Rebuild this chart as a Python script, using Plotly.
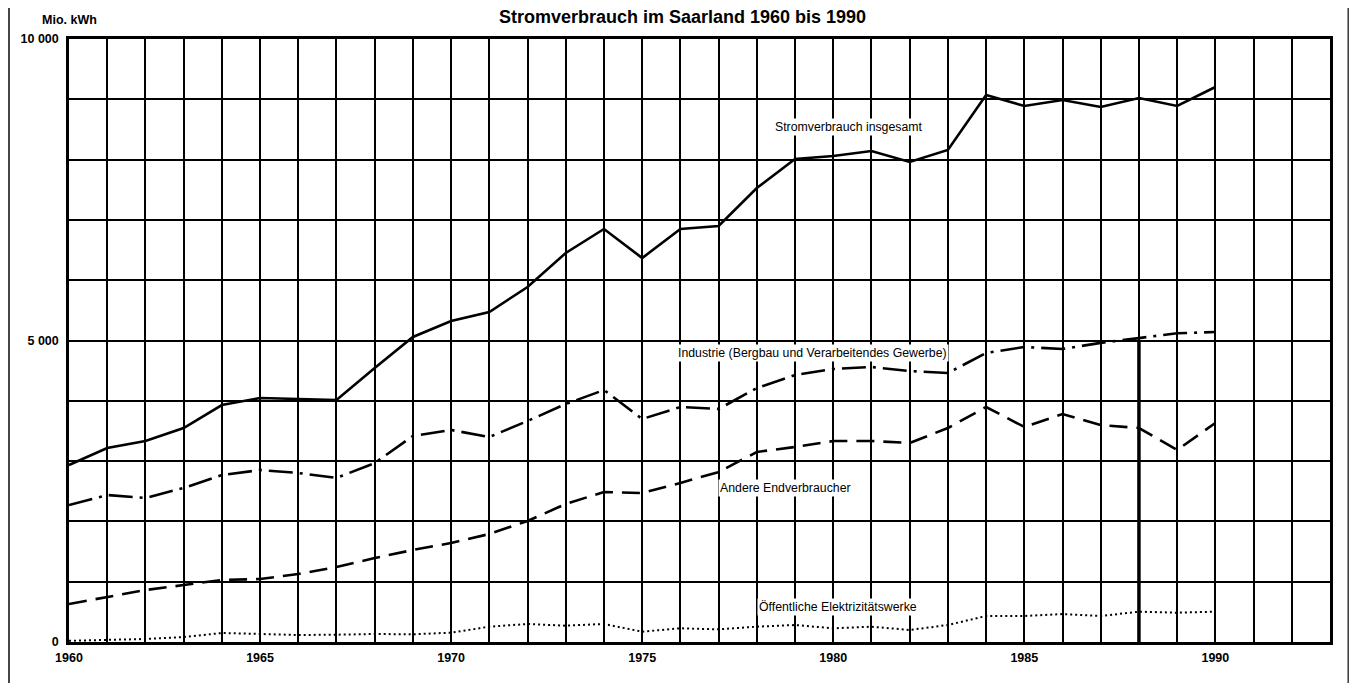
import plotly.graph_objects as go

years = list(range(1960, 1991))

insgesamt = [2935, 3217, 3333, 3549, 3930, 4046, 4030, 4013, 4544, 5058,
             5323, 5473, 5887, 6451, 6849, 6368, 6849, 6899, 7529, 8010,
             8060, 8143, 7960, 8159, 9071, 8889, 8988, 8872, 9022, 8889, 9204]

industrie = [2272, 2438, 2388, 2554, 2769, 2852, 2803, 2720, 2968, 3416,
             3516, 3400, 3665, 3947, 4179, 3698, 3897, 3864, 4212, 4428,
             4527, 4561, 4494, 4461, 4793, 4892, 4860, 4960, 5040, 5120, 5140]

andere = [630, 746, 862, 945, 1028, 1045, 1128, 1244, 1393, 1526,
          1642, 1791, 2007, 2289, 2488, 2471, 2637, 2819, 3151, 3234,
          3333, 3333, 3300, 3549, 3897, 3566, 3781, 3599, 3549, 3184, 3632]

oeffentlich = [20, 33, 50, 83, 149, 133, 116, 121, 133, 127,
               155, 254, 299, 271, 299, 171, 227, 210, 254, 282,
               227, 254, 199, 282, 431, 431, 464, 431, 503, 486, 503]

x_tickvals = [1960, 1965, 1970, 1975, 1980, 1985, 1990]
x_ticktext = ["1960", "1965", "1970", "1975", "1980", "1985", "1990"]
y_tickvals = [0, 5000, 10000]
y_ticktext = ["0", "5 000", "10 000"]

labels = [
    ("Stromverbrauch insgesamt", 1980.4, 8541),
    ("Industrie (Bergbau und Verarbeitendes Gewerbe)", 1979.45, 4793),
    ("Andere Endverbraucher", 1978.74, 2554),
    ("Öffentliche Elektrizitätswerke", 1980.13, 580),
]

fig = go.Figure()
fig.add_trace(go.Scatter(x=years, y=insgesamt, mode="lines",
                         line=dict(color="black", width=2.6), name="insgesamt"))
fig.add_trace(go.Scatter(x=years, y=industrie, mode="lines",
                         line=dict(color="black", width=2.6, dash="24px,7px,3px,7px"), name="Industrie"))
fig.add_trace(go.Scatter(x=years, y=andere, mode="lines",
                         line=dict(color="black", width=2.6, dash="18px,9px"), name="Andere"))
fig.add_trace(go.Scatter(x=years, y=oeffentlich, mode="lines",
                         line=dict(color="black", width=2, dash="2px,3px"), name="Öffentliche"))

for txt, lx, ly in labels:
    fig.add_annotation(x=lx, y=ly, text=txt, showarrow=False,
                       font=dict(size=12.3, color="black", family="Liberation Sans", weight="normal"),
                       bgcolor="white", borderpad=1)

fig.update_layout(
    width=1349, height=675,
    margin=dict(l=61, r=27, t=31, b=41),
    paper_bgcolor="white", plot_bgcolor="white",
    showlegend=False,
    font=dict(family="Liberation Sans", color="black", size=12, weight="bold"),
    title=dict(text="Stromverbrauch im Saarland 1960 bis 1990", x=0.5, xanchor="center",
               y=0.987, yanchor="middle",
               font=dict(size=18, family="Liberation Sans", weight="bold", color="black")),
)

fig.update_xaxes(range=[1960, 1993], tickvals=x_tickvals, ticktext=x_ticktext,
                 showgrid=True, gridcolor="black", gridwidth=1.8,
                 minor=dict(dtick=1, tick0=1960, showgrid=True, gridcolor="black", gridwidth=1.8),
                 showline=True, linecolor="black", linewidth=2.5, mirror=True,
                 ticks="", ticklabelstandoff=2, zeroline=False,
                 tickfont=dict(size=12.5, family="Liberation Sans", weight="bold"))
fig.update_yaxes(range=[0, 10000], tickvals=y_tickvals, ticktext=y_ticktext,
                 showgrid=True, gridcolor="black", gridwidth=1.8,
                 minor=dict(dtick=1000, tick0=0, showgrid=True, gridcolor="black", gridwidth=1.8),
                 showline=True, linecolor="black", linewidth=2.5, mirror=True,
                 ticks="", zeroline=False, ticklabelstandoff=5,
                 tickfont=dict(size=12.5, family="Liberation Sans", weight="bold"))

fig.add_annotation(xref="paper", yref="paper", x=-0.023, y=1.0, yshift=19,
                   text="Mio. kWh", showarrow=False, xanchor="left", yanchor="middle",
                   font=dict(size=12.5, family="Liberation Sans", weight="bold"))

# heavier grid line at 1988 (as in the scanned original)
fig.add_shape(type="line", xref="x", yref="paper", x0=1988, x1=1988, y0=0, y1=0.5,
              line=dict(color="black", width=3.5), layer="below")

# page border lines
fig.add_shape(type="line", xref="paper", yref="paper", x0=-0.048, x1=-0.048, y0=-0.068, y1=1.065,
              line=dict(color="#444", width=3))
fig.add_shape(type="line", xref="paper", yref="paper", x0=1.0150, x1=1.0150, y0=-0.068, y1=1.065,
              line=dict(color="#444", width=3))

fig.write_html("out.html")
